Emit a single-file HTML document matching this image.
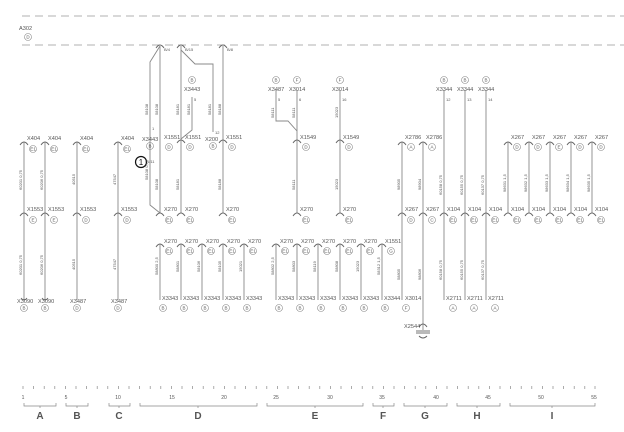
<!DOCTYPE html>
<html><head><meta charset="utf-8"><style>
html,body{margin:0;padding:0;background:#fff}
svg{display:block}
text{font-family:"Liberation Sans",sans-serif;fill:#555}
.t{font-size:5.6px}
.s{font-size:4px}
.c{font-size:4.5px;text-anchor:middle}
.v{font-size:4px}
.big{font-size:10px;font-weight:bold;fill:#222;text-anchor:middle}
.n{font-size:5px;fill:#777;text-anchor:middle}
</style></head><body>
<svg width="624" height="432" viewBox="0 0 624 432" xmlns="http://www.w3.org/2000/svg">
<g stroke="#999" stroke-width="0.8" fill="none">
<line x1="22" y1="16" x2="624" y2="16" stroke-dasharray="8,5"/>
<line x1="22" y1="45" x2="624" y2="45" stroke-dasharray="8,5"/>
</g>
<text class="t" x="19" y="30">A302</text>
<circle cx="28" cy="37" r="3.5" fill="none" stroke="#888" stroke-width="0.6"/><text class="c" x="28" y="38.5">D</text>

<g stroke="#888" stroke-width="0.9" fill="none">
<line x1="24" y1="142" x2="24" y2="300"/><line x1="45" y1="142" x2="45" y2="300"/>
<line x1="77" y1="142" x2="77" y2="300"/><line x1="118" y1="142" x2="118" y2="300"/>
<polyline points="160,46 150,62 150,205 160,213"/>
<line x1="160" y1="46" x2="160" y2="213"/>
<line x1="181" y1="46" x2="181" y2="213"/>
<polyline points="181,50 195,64 213,64 213,132"/>
<polyline points="192,97 192,130 181,139"/>
<line x1="223" y1="46" x2="223" y2="213"/>
<polyline points="276,90 276,121 288,121 297,131"/>
<line x1="297" y1="90" x2="297" y2="213"/>
<line x1="340" y1="90" x2="340" y2="213"/>
<line x1="160" y1="244" x2="160" y2="300"/><line x1="181" y1="244" x2="181" y2="300"/>
<line x1="202" y1="244" x2="202" y2="300"/><line x1="223" y1="244" x2="223" y2="300"/>
<line x1="244" y1="244" x2="244" y2="300"/>
<line x1="276" y1="244" x2="276" y2="300"/><line x1="297" y1="244" x2="297" y2="300"/>
<line x1="318" y1="244" x2="318" y2="300"/><line x1="340" y1="244" x2="340" y2="300"/>
<line x1="361" y1="244" x2="361" y2="300"/><line x1="382" y1="244" x2="382" y2="300"/>
<line x1="402" y1="142" x2="402" y2="300"/><line x1="423" y1="142" x2="423" y2="330"/>
<line x1="444" y1="90" x2="444" y2="300"/><line x1="465" y1="90" x2="465" y2="300"/><line x1="486" y1="90" x2="486" y2="300"/>
<line x1="508" y1="142" x2="508" y2="213"/><line x1="529" y1="142" x2="529" y2="213"/>
<line x1="550" y1="142" x2="550" y2="213"/><line x1="571" y1="142" x2="571" y2="213"/>
<line x1="592" y1="142" x2="592" y2="213"/>
<g stroke="#666">
<path d="M20,145 Q24,139 28,145 M41,145 Q45,139 49,145 M73,145 Q77,139 81,145 M114,145 Q118,139 122,145"/>
<path d="M20,216 Q24,210 28,216 M41,216 Q45,210 49,216 M73,216 Q77,210 81,216 M114,216 Q118,210 122,216"/>
<path d="M156,48 Q160,42 164,48 M177,48 Q181,42 185,48 M219,48 Q223,42 227,48"/>
<path d="M177,143 Q181,137 185,143 M219,143 Q223,137 227,143 M293,143 Q297,137 301,143 M336,143 Q340,137 344,143"/>
<path d="M156,216 Q160,210 164,216 M177,216 Q181,210 185,216 M219,216 Q223,210 227,216 M293,216 Q297,210 301,216 M336,216 Q340,210 344,216"/>
<path d="M156,247 Q160,241 164,247 M177,247 Q181,241 185,247 M198,247 Q202,241 206,247 M219,247 Q223,241 227,247 M240,247 Q244,241 248,247"/>
<path d="M272,247 Q276,241 280,247 M293,247 Q297,241 301,247 M314,247 Q318,241 322,247 M336,247 Q340,241 344,247 M357,247 Q361,241 365,247 M378,247 Q382,241 386,247"/>
<path d="M398,145 Q402,139 406,145 M419,145 Q423,139 427,145 M398,216 Q402,210 406,216 M419,216 Q423,210 427,216"/>
<path d="M440,216 Q444,210 448,216 M461,216 Q465,210 469,216 M482,216 Q486,210 490,216"/>
<path d="M504,145 Q508,139 512,145 M525,145 Q529,139 533,145 M546,145 Q550,139 554,145 M567,145 Q571,139 575,145 M588,145 Q592,139 596,145"/>
<path d="M504,216 Q508,210 512,216 M525,216 Q529,210 533,216 M546,216 Q550,210 554,216 M567,216 Q571,210 575,216 M588,216 Q592,210 596,216"/>
<path d="M21,298 Q24,302 27,298 M42,298 Q45,302 48,298 M419,327 Q423,321 427,327 M419,336 Q423,340 427,336"/>
<line x1="416" y1="331" x2="430" y2="331"/><line x1="416" y1="333" x2="430" y2="333"/>
</g>
</g>
<circle cx="141" cy="162" r="5.5" fill="none" stroke="#111" stroke-width="1.2"/>
<text x="141" y="165" style="font-size:8px;text-anchor:middle;fill:#111">1</text>
<text class="s" x="147" y="163">1/11</text>

<g fill="none" stroke="#888" stroke-width="0.6">
<circle cx="33" cy="149" r="3.5"/><circle cx="54" cy="149" r="3.5"/><circle cx="86" cy="149" r="3.5"/><circle cx="127" cy="149" r="3.5"/>
<circle cx="33" cy="220" r="3.5"/><circle cx="54" cy="220" r="3.5"/><circle cx="86" cy="220" r="3.5"/><circle cx="127" cy="220" r="3.5"/>
<circle cx="24" cy="308" r="3.5"/><circle cx="45" cy="308" r="3.5"/><circle cx="77" cy="308" r="3.5"/><circle cx="118" cy="308" r="3.5"/>
<circle cx="192" cy="80" r="3.5"/><circle cx="276" cy="80" r="3.5"/><circle cx="297" cy="80" r="3.5"/><circle cx="340" cy="80" r="3.5"/>
<circle cx="444" cy="80" r="3.5"/><circle cx="465" cy="80" r="3.5"/><circle cx="486" cy="80" r="3.5"/>
<circle cx="150" cy="146" r="3.5"/><circle cx="169" cy="147" r="3.5"/><circle cx="190" cy="147" r="3.5"/><circle cx="213" cy="146" r="3.5"/><circle cx="232" cy="147" r="3.5"/>
<circle cx="306" cy="147" r="3.5"/><circle cx="349" cy="147" r="3.5"/>
<circle cx="169" cy="220" r="3.5"/><circle cx="190" cy="220" r="3.5"/><circle cx="232" cy="220" r="3.5"/><circle cx="306" cy="220" r="3.5"/><circle cx="349" cy="220" r="3.5"/>
<circle cx="169" cy="251" r="3.5"/><circle cx="190" cy="251" r="3.5"/><circle cx="211" cy="251" r="3.5"/><circle cx="232" cy="251" r="3.5"/><circle cx="253" cy="251" r="3.5"/>
<circle cx="285" cy="251" r="3.5"/><circle cx="306" cy="251" r="3.5"/><circle cx="327" cy="251" r="3.5"/><circle cx="349" cy="251" r="3.5"/><circle cx="370" cy="251" r="3.5"/><circle cx="391" cy="251" r="3.5"/>
<circle cx="163" cy="308" r="3.5"/><circle cx="184" cy="308" r="3.5"/><circle cx="205" cy="308" r="3.5"/><circle cx="226" cy="308" r="3.5"/><circle cx="247" cy="308" r="3.5"/>
<circle cx="279" cy="308" r="3.5"/><circle cx="300" cy="308" r="3.5"/><circle cx="321" cy="308" r="3.5"/><circle cx="343" cy="308" r="3.5"/><circle cx="364" cy="308" r="3.5"/><circle cx="385" cy="308" r="3.5"/><circle cx="406" cy="308" r="3.5"/>
<circle cx="411" cy="147" r="3.5"/><circle cx="432" cy="147" r="3.5"/><circle cx="411" cy="220" r="3.5"/><circle cx="432" cy="220" r="3.5"/>
<circle cx="453" cy="220" r="3.5"/><circle cx="474" cy="220" r="3.5"/><circle cx="495" cy="220" r="3.5"/>
<circle cx="453" cy="308" r="3.5"/><circle cx="474" cy="308" r="3.5"/><circle cx="495" cy="308" r="3.5"/>
<circle cx="517" cy="147" r="3.5"/><circle cx="538" cy="147" r="3.5"/><circle cx="559" cy="147" r="3.5"/><circle cx="580" cy="147" r="3.5"/><circle cx="601" cy="147" r="3.5"/>
<circle cx="517" cy="220" r="3.5"/><circle cx="538" cy="220" r="3.5"/><circle cx="559" cy="220" r="3.5"/><circle cx="580" cy="220" r="3.5"/><circle cx="601" cy="220" r="3.5"/>
</g>
<g class="t">
<text x="27" y="140">X404</text><text x="48" y="140">X404</text><text x="80" y="140">X404</text><text x="121" y="140">X404</text>
<text x="27" y="211">X1553</text><text x="48" y="211">X1553</text><text x="80" y="211">X1553</text><text x="121" y="211">X1553</text>
<text x="17" y="303">X3090</text><text x="38" y="303">X3090</text><text x="70" y="303">X3487</text><text x="111" y="303">X3487</text>
<text x="184" y="91">X3443</text><text x="268" y="91">X3487</text><text x="289" y="91">X3014</text><text x="332" y="91">X3014</text>
<text x="436" y="91">X3344</text><text x="457" y="91">X3344</text><text x="478" y="91">X3344</text>
<text x="142" y="141">X3443</text><text x="164" y="139">X1551</text><text x="185" y="139">X1551</text><text x="205" y="141">X200</text><text x="226" y="139">X1551</text>
<text x="300" y="139">X1549</text><text x="343" y="139">X1549</text>
<text x="164" y="211">X270</text><text x="185" y="211">X270</text><text x="226" y="211">X270</text><text x="300" y="211">X270</text><text x="343" y="211">X270</text>
<text x="164" y="243">X270</text><text x="185" y="243">X270</text><text x="206" y="243">X270</text><text x="227" y="243">X270</text><text x="248" y="243">X270</text>
<text x="280" y="243">X270</text><text x="301" y="243">X270</text><text x="322" y="243">X270</text><text x="343" y="243">X270</text><text x="364" y="243">X270</text><text x="385" y="243">X1551</text>
<text x="162" y="300">X3343</text><text x="183" y="300">X3343</text><text x="204" y="300">X3343</text><text x="225" y="300">X3343</text><text x="246" y="300">X3343</text>
<text x="278" y="300">X3343</text><text x="299" y="300">X3343</text><text x="320" y="300">X3343</text><text x="342" y="300">X3343</text><text x="363" y="300">X3343</text><text x="384" y="300">X3344</text><text x="405" y="300">X3014</text>
<text x="405" y="139">X2786</text><text x="426" y="139">X2786</text>
<text x="405" y="211">X267</text><text x="426" y="211">X267</text><text x="447" y="211">X104</text><text x="468" y="211">X104</text><text x="489" y="211">X104</text>
<text x="446" y="300">X2711</text><text x="467" y="300">X2711</text><text x="488" y="300">X2711</text>
<text x="511" y="139">X267</text><text x="532" y="139">X267</text><text x="553" y="139">X267</text><text x="574" y="139">X267</text><text x="595" y="139">X267</text>
<text x="511" y="211">X104</text><text x="532" y="211">X104</text><text x="553" y="211">X104</text><text x="574" y="211">X104</text><text x="595" y="211">X104</text>
<text x="404" y="328">X2544</text>
</g>
<g class="s">
<text x="164" y="51">B/4</text><text x="185" y="51">B/15</text><text x="227" y="51">B/8</text>
<text x="194" y="101">5</text><text x="278" y="101">5</text><text x="299" y="101">6</text><text x="342" y="101">16</text>
<text x="446" y="101">12</text><text x="467" y="101">13</text><text x="488" y="101">14</text>
<text x="215" y="134">12</text><text x="152" y="130">1</text>
</g>
<g class="c">
<text x="33" y="150.5">E1</text><text x="54" y="150.5">E1</text><text x="86" y="150.5">E1</text><text x="127" y="150.5">E1</text>
<text x="33" y="221.5">E</text><text x="54" y="221.5">E</text><text x="86" y="221.5">D</text><text x="127" y="221.5">D</text>
<text x="24" y="309.5">B</text><text x="45" y="309.5">B</text><text x="77" y="309.5">D</text><text x="118" y="309.5">D</text>
<text x="192" y="81.5">B</text><text x="276" y="81.5">B</text><text x="297" y="81.5">F</text><text x="340" y="81.5">F</text>
<text x="444" y="81.5">B</text><text x="465" y="81.5">B</text><text x="486" y="81.5">B</text>
<text x="150" y="147.5">B</text><text x="169" y="148.5">D</text><text x="190" y="148.5">D</text><text x="213" y="147.5">B</text><text x="232" y="148.5">D</text>
<text x="306" y="148.5">D</text><text x="349" y="148.5">D</text>
<text x="169" y="221.5">E1</text><text x="190" y="221.5">E1</text><text x="232" y="221.5">E1</text><text x="306" y="221.5">E1</text><text x="349" y="221.5">E1</text>
<text x="169" y="252.5">E1</text><text x="190" y="252.5">E1</text><text x="211" y="252.5">E1</text><text x="232" y="252.5">E1</text><text x="253" y="252.5">E1</text>
<text x="285" y="252.5">E1</text><text x="306" y="252.5">E1</text><text x="327" y="252.5">E1</text><text x="349" y="252.5">E1</text><text x="370" y="252.5">E1</text><text x="391" y="252.5">G</text>
<text x="163" y="309.5">B</text><text x="184" y="309.5">B</text><text x="205" y="309.5">B</text><text x="226" y="309.5">B</text><text x="247" y="309.5">B</text>
<text x="279" y="309.5">B</text><text x="300" y="309.5">B</text><text x="321" y="309.5">B</text><text x="343" y="309.5">B</text><text x="364" y="309.5">B</text><text x="385" y="309.5">B</text><text x="406" y="309.5">F</text>
<text x="411" y="148.5">A</text><text x="432" y="148.5">A</text><text x="411" y="221.5">D</text><text x="432" y="221.5">C</text>
<text x="453" y="221.5">E1</text><text x="474" y="221.5">E1</text><text x="495" y="221.5">E1</text>
<text x="453" y="309.5">A</text><text x="474" y="309.5">A</text><text x="495" y="309.5">A</text>
<text x="517" y="148.5">D</text><text x="538" y="148.5">D</text><text x="559" y="148.5">E</text><text x="580" y="148.5">D</text><text x="601" y="148.5">D</text>
<text x="517" y="221.5">E1</text><text x="538" y="221.5">E1</text><text x="559" y="221.5">E1</text><text x="580" y="221.5">E1</text><text x="601" y="221.5">E1</text>
</g>
<g class="v">
<text transform="translate(22,190) rotate(-90)">60201 0,75</text>
<text transform="translate(43,190) rotate(-90)">60206 0,75</text>
<text transform="translate(75,185) rotate(-90)">40515</text>
<text transform="translate(116,185) rotate(-90)">47547</text>
<text transform="translate(22,275) rotate(-90)">60201 0,75</text>
<text transform="translate(43,275) rotate(-90)">60206 0,75</text>
<text transform="translate(75,270) rotate(-90)">40515</text>
<text transform="translate(116,270) rotate(-90)">47547</text>
<text transform="translate(148,115) rotate(-90)">58108</text>
<text transform="translate(158,115) rotate(-90)">58108</text>
<text transform="translate(179,115) rotate(-90)">58181</text>
<text transform="translate(190,115) rotate(-90)">58181</text>
<text transform="translate(211,115) rotate(-90)">58181</text>
<text transform="translate(221,115) rotate(-90)">58188</text>
<text transform="translate(148,180) rotate(-90)">58108 0,75</text>
<text transform="translate(158,190) rotate(-90)">58108</text>
<text transform="translate(179,190) rotate(-90)">58181</text>
<text transform="translate(221,190) rotate(-90)">58188</text>
<text transform="translate(274,118) rotate(-90)">58111</text>
<text transform="translate(295,118) rotate(-90)">58111</text>
<text transform="translate(295,190) rotate(-90)">58111</text>
<text transform="translate(338,118) rotate(-90)">15023</text>
<text transform="translate(338,190) rotate(-90)">15023</text>
<text transform="translate(158,275) rotate(-90)">58800 2,5</text>
<text transform="translate(179,272) rotate(-90)">58801</text>
<text transform="translate(200,272) rotate(-90)">58106</text>
<text transform="translate(221,272) rotate(-90)">58105</text>
<text transform="translate(242,272) rotate(-90)">15021</text>
<text transform="translate(274,275) rotate(-90)">58802 2,5</text>
<text transform="translate(295,272) rotate(-90)">58803</text>
<text transform="translate(316,272) rotate(-90)">58119</text>
<text transform="translate(338,272) rotate(-90)">58808</text>
<text transform="translate(359,272) rotate(-90)">15023</text>
<text transform="translate(380,275) rotate(-90)">58312 1,5</text>
<text transform="translate(400,190) rotate(-90)">98905</text>
<text transform="translate(421,190) rotate(-90)">98904</text>
<text transform="translate(400,280) rotate(-90)">58805</text>
<text transform="translate(421,280) rotate(-90)">98806</text>
<text transform="translate(442,195) rotate(-90)">60158 0,75</text>
<text transform="translate(463,195) rotate(-90)">60155 0,75</text>
<text transform="translate(484,195) rotate(-90)">60137 0,75</text>
<text transform="translate(442,280) rotate(-90)">60158 0,75</text>
<text transform="translate(463,280) rotate(-90)">60155 0,75</text>
<text transform="translate(484,280) rotate(-90)">60137 0,75</text>
<text transform="translate(506,192) rotate(-90)">98631 1,5</text>
<text transform="translate(527,192) rotate(-90)">98632 1,5</text>
<text transform="translate(548,192) rotate(-90)">98633 1,5</text>
<text transform="translate(569,192) rotate(-90)">98634 1,5</text>
<text transform="translate(590,192) rotate(-90)">98635 1,5</text>
</g>
<g stroke="#888" stroke-width="0.7" fill="none">
<path d="M23,386v3M33.6,386v3M44.2,386v3M54.8,386v3M65.4,386v3M76,386v3M86.6,386v3M97.2,386v3M107.8,386v3M118.4,386v3M129,386v3M139.6,386v3M150.2,386v3M160.8,386v3M171.4,386v3M182,386v3M192.6,386v3M203.2,386v3M213.8,386v3M224.4,386v3M235,386v3M245.6,386v3M256.2,386v3M266.8,386v3M277.4,386v3M288,386v3M298.6,386v3M309.2,386v3M319.8,386v3M330.4,386v3M341,386v3M351.6,386v3M362.2,386v3M372.8,386v3M383.4,386v3M394,386v3M404.6,386v3M415.2,386v3M425.8,386v3M436.4,386v3M447,386v3M457.6,386v3M468.2,386v3M478.8,386v3M489.4,386v3M500,386v3M510.6,386v3M521.2,386v3M531.8,386v3M542.4,386v3M553,386v3M563.6,386v3M574.2,386v3M584.8,386v3M595,386v3"/>
<path d="M24,403 v3 h32 v-3 M40,406 v2"/>
<path d="M66,403 v3 h22 v-3 M77,406 v2"/>
<path d="M109,403 v3 h21 v-3 M119,406 v2"/>
<path d="M140,403 v3 h117 v-3 M198,406 v2"/>
<path d="M267,403 v3 h96 v-3 M315,406 v2"/>
<path d="M373,403 v3 h21 v-3 M383,406 v2"/>
<path d="M404,403 v3 h43 v-3 M425,406 v2"/>
<path d="M457,403 v3 h43 v-3 M477,406 v2"/>
<path d="M510,403 v3 h85 v-3 M552,406 v2"/>
</g>
<g class="n">
<text x="23" y="399">1</text><text x="66" y="399">5</text><text x="118" y="399">10</text><text x="172" y="399">15</text><text x="224" y="399">20</text>
<text x="276" y="399">25</text><text x="330" y="399">30</text><text x="382" y="399">35</text><text x="436" y="399">40</text><text x="488" y="399">45</text><text x="541" y="399">50</text><text x="594" y="399">55</text>
</g>
<g class="big">
<text x="40" y="419">A</text><text x="77" y="419">B</text><text x="119" y="419">C</text><text x="198" y="419">D</text><text x="315" y="419">E</text><text x="383" y="419">F</text><text x="425" y="419">G</text><text x="477" y="419">H</text><text x="552" y="419">I</text>
</g>
</svg>
</body></html>
